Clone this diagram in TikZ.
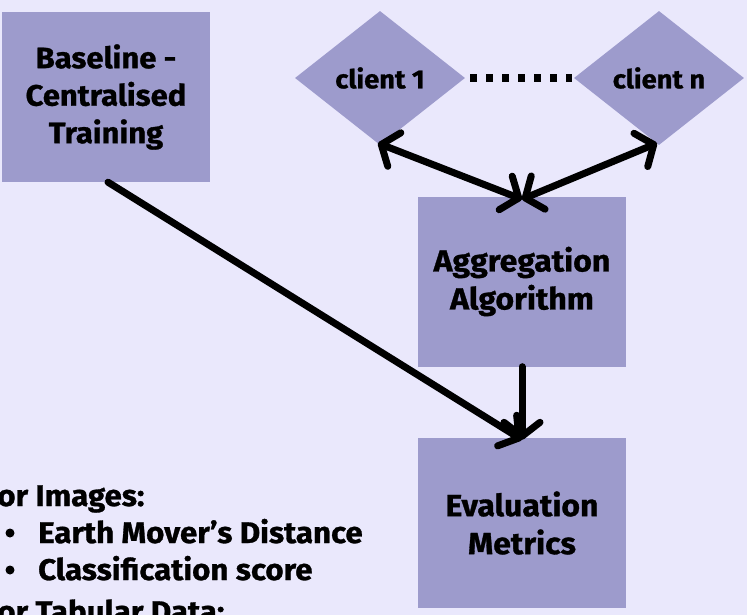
\documentclass[tikz,border=0pt]{standalone}
\usepackage{fontspec}
\setmainfont{Fira Sans}[FakeStretch=1.05, BoldFeatures={FakeBold=1}]
\usetikzlibrary{shapes.geometric,arrows.meta}
\definecolor{bg}{HTML}{EAE8FC}
\definecolor{boxfill}{HTML}{9D9BCC}
\tikzset{Barb/.tip={Straight Barb[length=14pt,width=36pt,line cap=round,line join=round]}}

\begin{document}
\begin{tikzpicture}[x=1pt,y=-1pt,
  box/.style={fill=boxfill, draw=none, minimum width=208pt, minimum height=170pt,
    inner sep=0pt, align=center},
  bigtext/.style={font=\fontsize{30.5}{38}\selectfont\bfseries},
  midtext/.style={font=\fontsize{29.5}{37.5}\selectfont\bfseries},
  client/.style={diamond, fill=boxfill, draw=none, minimum width=170pt,
    minimum height=134pt, inner sep=0pt, font=\fontsize{26}{30}\selectfont\bfseries},
  link/.style={line width=7pt, line cap=round, line join=round},
  note/.style={anchor=base west, inner sep=0pt, font=\fontsize{29.8}{36}\selectfont\bfseries},
]
  % canvas
  \useasboundingbox (0,0) rectangle (747,615);
  \fill[bg] (0,0) rectangle (747,615);
  \clip (0,0) rectangle (747,615);

  % boxes
  \node[box, midtext] (base) at (106,97) {Baseline -\\Centralised\\Training};
  \node[box, bigtext] (agg) at (522,281.5) {Aggregation\\Algorithm};
  \node[box, bigtext] (eval) at (522,523) {Evaluation\\Metrics};

  % clients
  \node[client] (c1) at (380,78) {client 1};
  \node[client] (cn) at (659,78) {client n};
  \draw[line width=8pt, dash pattern=on 7pt off 9pt] (c1.east) ++(5,0) -- ([xshift=-2pt]cn.west);

  % connectors
  \coordinate (aggtop) at ([yshift=-3pt]agg.north);
  \coordinate (evaltop) at ([yshift=-2pt]eval.north);
  \draw[link, Barb-Barb] ([shift={(-2pt,2pt)}]c1.south) -- (aggtop);
  \draw[link, Barb-Barb] ([shift={(-2pt,2pt)}]cn.south) -- (aggtop);
  \draw[link, -Barb] ([xshift=2pt]base.south) -- (evaltop);
  \draw[link, -Barb] (agg.south) -- (evaltop);

  % metrics list
  \node[note] (img) at (-17,506) {For Images:};
  \node[note] (emd) at (38,543) {Earth Mover’s Distance};
  \node[note] (cls) at (38,580) {Classification score};
  \node[note] (tab) at (-17,622) {For Tabular Data:};
  \fill (10,533) circle (4.5pt);
  \fill (10,570) circle (4.5pt);
\end{tikzpicture}
\end{document}
